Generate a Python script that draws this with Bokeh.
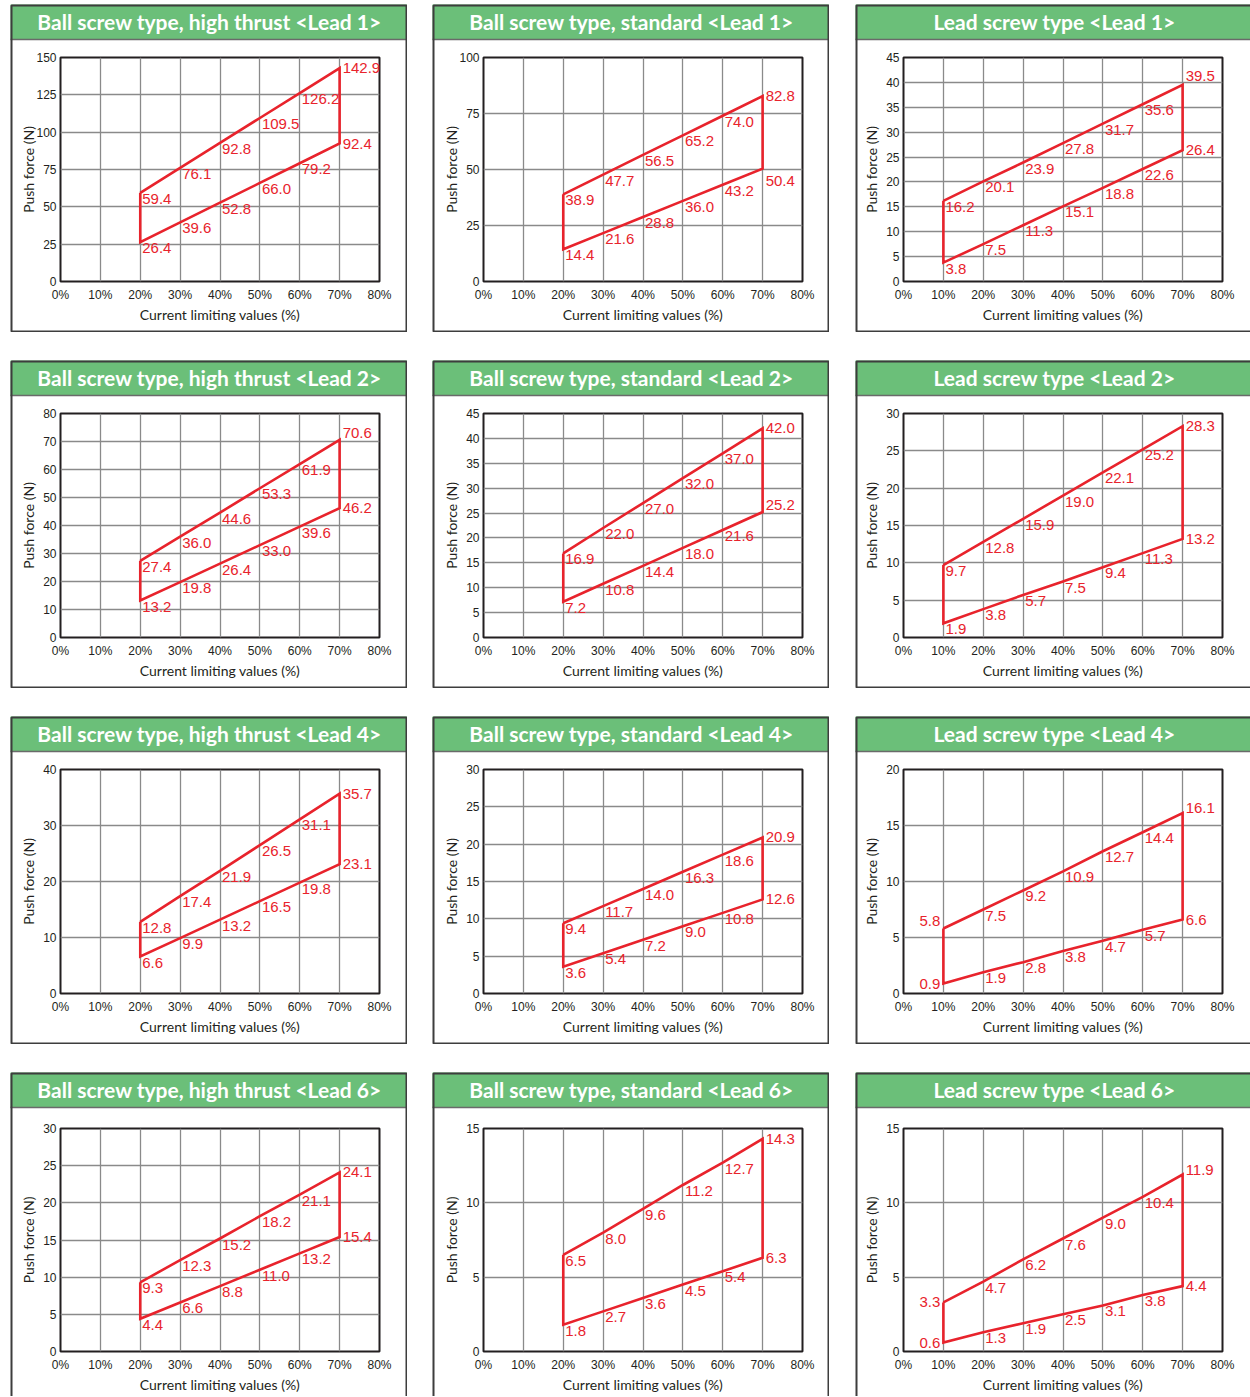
from bokeh.plotting import figure
from bokeh.layouts import column, row
from bokeh.models import Range1d, FixedTicker, ColumnDataSource, Spacer
from bokeh.core.properties import value, field
from bokeh.embed import file_html
from bokeh.resources import INLINE

# ---------------- data ----------------
x_ball = [20, 30, 40, 50, 60, 70]
x_lead = [10, 20, 30, 40, 50, 60, 70]
x_ticks = [0, 10, 20, 30, 40, 50, 60, 70, 80]
x_tick_labels = ["0%", "10%", "20%", "30%", "40%", "50%", "60%", "70%", "80%"]

titles = [
    "Ball screw type, high thrust <Lead 1>",
    "Ball screw type, standard <Lead 1>",
    "Lead screw type <Lead 1>",
    "Ball screw type, high thrust <Lead 2>",
    "Ball screw type, standard <Lead 2>",
    "Lead screw type <Lead 2>",
    "Ball screw type, high thrust <Lead 4>",
    "Ball screw type, standard <Lead 4>",
    "Lead screw type <Lead 4>",
    "Ball screw type, high thrust <Lead 6>",
    "Ball screw type, standard <Lead 6>",
    "Lead screw type <Lead 6>",
]

ht1_upper = [59.4, 76.1, 92.8, 109.5, 126.2, 142.9]
ht1_lower = [26.4, 39.6, 52.8, 66.0, 79.2, 92.4]
st1_upper = [38.9, 47.7, 56.5, 65.2, 74.0, 82.8]
st1_lower = [14.4, 21.6, 28.8, 36.0, 43.2, 50.4]
ls1_upper = [16.2, 20.1, 23.9, 27.8, 31.7, 35.6, 39.5]
ls1_lower = [3.8, 7.5, 11.3, 15.1, 18.8, 22.6, 26.4]

ht2_upper = [27.4, 36.0, 44.6, 53.3, 61.9, 70.6]
ht2_lower = [13.2, 19.8, 26.4, 33.0, 39.6, 46.2]
st2_upper = [16.9, 22.0, 27.0, 32.0, 37.0, 42.0]
st2_lower = [7.2, 10.8, 14.4, 18.0, 21.6, 25.2]
ls2_upper = [9.7, 12.8, 15.9, 19.0, 22.1, 25.2, 28.3]
ls2_lower = [1.9, 3.8, 5.7, 7.5, 9.4, 11.3, 13.2]

ht4_upper = [12.8, 17.4, 21.9, 26.5, 31.1, 35.7]
ht4_lower = [6.6, 9.9, 13.2, 16.5, 19.8, 23.1]
st4_upper = [9.4, 11.7, 14.0, 16.3, 18.6, 20.9]
st4_lower = [3.6, 5.4, 7.2, 9.0, 10.8, 12.6]
ls4_upper = [5.8, 7.5, 9.2, 10.9, 12.7, 14.4, 16.1]
ls4_lower = [0.9, 1.9, 2.8, 3.8, 4.7, 5.7, 6.6]

ht6_upper = [9.3, 12.3, 15.2, 18.2, 21.1, 24.1]
ht6_lower = [4.4, 6.6, 8.8, 11.0, 13.2, 15.4]
st6_upper = [6.5, 8.0, 9.6, 11.2, 12.7, 14.3]
st6_lower = [1.8, 2.7, 3.6, 4.5, 5.4, 6.3]
ls6_upper = [3.3, 4.7, 6.2, 7.6, 9.0, 10.4, 11.9]
ls6_lower = [0.6, 1.3, 1.9, 2.5, 3.1, 3.8, 4.4]

y_ticks_ht1 = [0, 25, 50, 75, 100, 125, 150]
y_ticks_st1 = [0, 25, 50, 75, 100]
y_ticks_ls1 = [0, 5, 10, 15, 20, 25, 30, 35, 40, 45]
y_ticks_ht2 = [0, 10, 20, 30, 40, 50, 60, 70, 80]
y_ticks_st2 = [0, 5, 10, 15, 20, 25, 30, 35, 40, 45]
y_ticks_ls2 = [0, 5, 10, 15, 20, 25, 30]
y_ticks_ht4 = [0, 10, 20, 30, 40]
y_ticks_st4 = [0, 5, 10, 15, 20, 25, 30]
y_ticks_ls4 = [0, 5, 10, 15, 20]
y_ticks_ht6 = [0, 5, 10, 15, 20, 25, 30]
y_ticks_st6 = [0, 5, 10, 15]
y_ticks_ls6 = [0, 5, 10, 15]

# ---------------- styles ----------------
H_TITLE = 35
FRAME_W = 319
GREEN = "#6bbf79"
RED = "#e8232c"
DARK = "#231f20"
GRID = "#8a8a8a"
BORDER = "#3d3d3d"

# per column: (panel width, left margin, show right border)
col_specs = [(397, 50, True), (397, 51, True), (395, 48, False)]

# label placement overrides: (series, index) -> (align, baseline, x_off, y_off)
label_overrides = [
    {},
    {("lo", -1): ("left", "top", 3, 7)},
    {("up", -1): ("left", "bottom", 3, -4)},
    {("up", -1): ("left", "middle", 3, -7)},
    {("lo", -1): ("left", "middle", 3, -7)},
    {},
    {},
    {},
    {("up", 0): ("right", "middle", -3, -8), ("lo", 0): ("right", "middle", -3, 1),
     ("up", -1): ("left", "middle", 3, -5)},
    {},
    {},
    {("up", 0): ("right", "middle", -3, 0), ("lo", 0): ("right", "middle", -3, 0),
     ("up", -1): ("left", "middle", 3, -5)},
]

panels_data = [
    (x_ball, ht1_upper, ht1_lower, y_ticks_ht1),
    (x_ball, st1_upper, st1_lower, y_ticks_st1),
    (x_lead, ls1_upper, ls1_lower, y_ticks_ls1),
    (x_ball, ht2_upper, ht2_lower, y_ticks_ht2),
    (x_ball, st2_upper, st2_lower, y_ticks_st2),
    (x_lead, ls2_upper, ls2_lower, y_ticks_ls2),
    (x_ball, ht4_upper, ht4_lower, y_ticks_ht4),
    (x_ball, st4_upper, st4_lower, y_ticks_st4),
    (x_lead, ls4_upper, ls4_lower, y_ticks_ls4),
    (x_ball, ht6_upper, ht6_lower, y_ticks_ht6),
    (x_ball, st6_upper, st6_lower, y_ticks_st6),
    (x_lead, ls6_upper, ls6_lower, y_ticks_ls6),
]


def panel(k, w, ml, show_right, h, top_gap, frame_h, show_bottom):
    xs, upper, lower, yticks = panels_data[k]
    overrides = label_overrides[k]
    mt = H_TITLE + top_gap
    mb = h - mt - frame_h
    mr = w - ml - FRAME_W
    p = figure(width=w, height=h, x_range=Range1d(0, 80),
               y_range=Range1d(yticks[0], yticks[-1]),
               output_backend="svg", toolbar_location=None,
               min_border_left=ml, min_border_right=mr, min_border_top=mt,
               min_border_bottom=mb, background_fill_color="white",
               border_fill_color="white", outline_line_color=DARK, outline_line_width=2)
    # pixel coordinate system for the panel decoration (title bar and box)
    p.extra_x_ranges = {"px": Range1d(ml, ml + FRAME_W)}
    p.extra_y_ranges = {"px": Range1d(mb, mb + frame_h)}

    p.xaxis.ticker = FixedTicker(ticks=x_ticks)
    p.xaxis.major_label_overrides = {t: l for t, l in zip(x_ticks, x_tick_labels)}
    p.yaxis.ticker = FixedTicker(ticks=yticks)
    p.xgrid.ticker = FixedTicker(ticks=x_ticks)
    p.ygrid.ticker = FixedTicker(ticks=yticks)
    p.grid.grid_line_color = GRID
    p.grid.grid_line_width = 1.3
    for ax in (p.xaxis, p.yaxis):
        ax.axis_line_color = None
        ax.major_tick_line_color = None
        ax.minor_tick_line_color = None
        ax.major_tick_out = 0
        ax.major_tick_in = 0
        ax.minor_tick_out = 0
        ax.minor_tick_in = 0
        ax.major_label_text_font = "Liberation Sans"
        ax.major_label_text_font_size = "12px"
        ax.major_label_text_color = DARK
        ax.axis_label_text_font = "Lato"
        ax.axis_label_text_font_size = "14px"
        ax.axis_label_text_font_style = "normal"
        ax.axis_label_text_color = DARK
    p.xaxis.axis_label = "Current limiting values (%)"
    p.xaxis.major_label_standoff = 6
    p.xaxis.axis_label_standoff = 1
    p.yaxis.axis_label = "Push force (N)"
    p.yaxis.major_label_standoff = 4
    maxlen = max(len(str(v)) for v in yticks)
    p.yaxis.axis_label_standoff = int(round(-3.5 + (3 - maxlen) * 6.67))

    poly_x = list(xs) + list(xs[::-1]) + [xs[0]]
    poly_y = list(upper) + list(lower[::-1]) + [upper[0]]
    p.line(poly_x, poly_y, line_color=RED, line_width=2.6, line_join="miter")

    lx, ly, lt, la, lb, lxo, lyo = [], [], [], [], [], [], []
    n = len(xs)
    for key, ser in (("up", upper), ("lo", lower)):
        for i, (xv, yv) in enumerate(zip(xs, ser)):
            spec = ("left", "middle", 3, 0) if i == n - 1 else ("left", "top", 2, 1)
            if (key, i) in overrides:
                spec = overrides[(key, i)]
            elif (key, i - n) in overrides:
                spec = overrides[(key, i - n)]
            lx.append(xv); ly.append(yv); lt.append(f"{yv:.1f}")
            la.append(spec[0]); lb.append(spec[1]); lxo.append(spec[2]); lyo.append(spec[3])
    src = ColumnDataSource(dict(x=lx, y=ly, text=lt, align=la, base=lb, xo=lxo, yo=lyo))
    p.text(x="x", y="y", text="text", source=src, text_align=field("align"),
           text_baseline=field("base"), x_offset=field("xo"), y_offset=field("yo"),
           text_color=RED, text_font=value("Liberation Sans"),
           text_font_size=value("15px"))

    # title bar and panel box (pixel coordinates, drawn outside the frame)
    deco = dict(x_range_name="px", y_range_name="px", level="annotation")
    bw = 398
    p.quad(left=[0], right=[w], bottom=[h - H_TITLE], top=[h], fill_color=GREEN,
           line_color=None, **deco)
    p.text(x=[bw / 2], y=[h - H_TITLE / 2 + 1], text=[titles[k]], text_align="center",
           text_baseline="middle", text_color="white", text_font=value("Lato"),
           text_font_style="bold", text_font_size=value("21px"), **deco)
    p.segment(x0=[0], y0=[h - H_TITLE], x1=[w], y1=[h - H_TITLE], line_color="#6a6a6a",
              line_width=1.5, **deco)
    p.quad(left=[1], right=[w - 1 if show_right else w + 10],
           bottom=[1 if show_bottom else -10], top=[h - 1],
           fill_color=None, line_color=BORDER, line_width=2, **deco)
    return p


rows = []
for r in range(4):
    last = r == 3
    items = []
    for c in range(3):
        k = r * 3 + c
        w, ml, show_right = col_specs[c]
        if last:
            fig = panel(k, w, ml, show_right, 324, 21, 223, False)
        else:
            fig = panel(k, w, ml, show_right, 328, 18, 224, True)
        if c > 0:
            items.append(Spacer(width=25 if c == 1 else 26))
        items.append(fig)
    rows.append(row(*items, spacing=0))

grid = column(*rows, spacing=28)
layout = column(Spacer(height=4), row(Spacer(width=10), grid, spacing=0), spacing=0)

open("out.html", "w").write(file_html(layout, INLINE))
